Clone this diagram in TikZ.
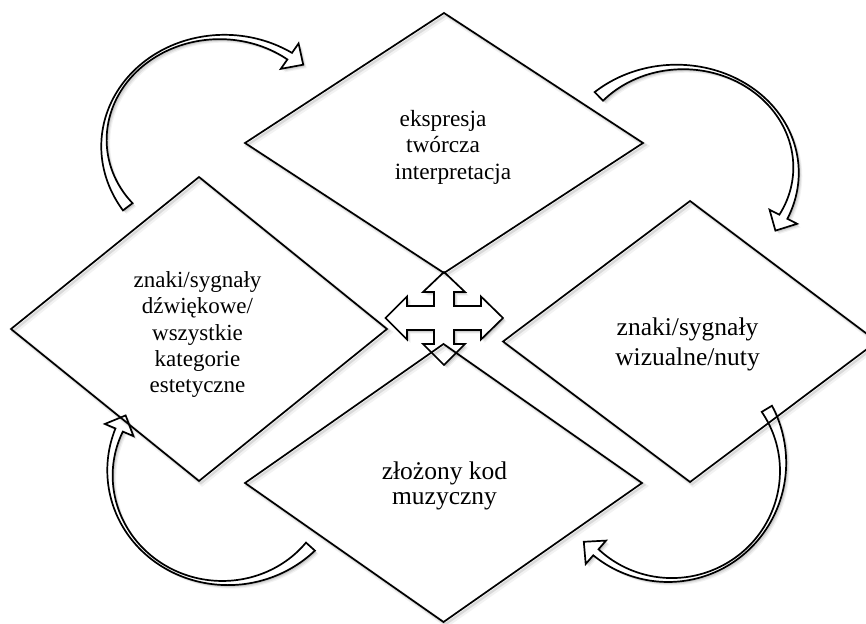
\documentclass[tikz,border=0pt]{standalone}
\usepackage{fontspec}
\setmainfont{Liberation Serif}
\usetikzlibrary{shapes.geometric}
\tikzset{
  shadowfill/.style={
    preaction={fill=black,fill opacity=0.05,transform canvas={xshift=3.5pt,yshift=-3.5pt}},
    preaction={fill=black,fill opacity=0.08,transform canvas={xshift=2.5pt,yshift=-2.5pt}},
    preaction={fill=black,fill opacity=0.10,transform canvas={xshift=1.5pt,yshift=-1.5pt}}},
  shadowline/.style={
    preaction={draw=black,draw opacity=0.05,line width=4.5pt,transform canvas={xshift=3pt,yshift=-3pt}},
    preaction={draw=black,draw opacity=0.10,line width=2.5pt,transform canvas={xshift=2pt,yshift=-2pt}}},
  blockarrow/.style={draw=black, line width=1.7pt, fill=white, line join=miter, shadowfill},
  dia/.style={diamond, draw=black, line width=1.7pt, inner sep=0pt, outer sep=0pt, shadowline},
  txt/.style={align=center, inner sep=0pt, anchor=north, text=black},
}
% #1 cx, #2 cy, #3 rx, #4 ry, #5 start angle, #6 end angle, #7 tail width, #8 head-end width, #9 head half width
\newcommand{\myCurvedArrow}[9]{%
  \pgfmathsetmacro\tgx{-(#3)*sin(#6)}%
  \pgfmathsetmacro\tgy{(#4)*cos(#6)}%
  \pgfmathsetmacro\tgn{sqrt(\tgx*\tgx+\tgy*\tgy)}%
  \pgfmathsetmacro\tipx{#1+(#3)*cos(#6)+16*\tgx/\tgn}%
  \pgfmathsetmacro\tipy{#2+(#4)*sin(#6)+16*\tgy/\tgn}%
  \draw[blockarrow, declare function={
      sf(\a)=(\a-(#5))/(#6-(#5));
      bw(\a)=2.6+((sf(\a)<0.5)*(#7-2.6)+(sf(\a)>=0.5)*(#8-2.6))*(1-2*sf(\a))^2;}]
    plot[domain=#5:#6, samples=90, variable=\q]
      ({#1+(#3+bw(\q)/2)*cos(\q)}, {#2+(#4+bw(\q)/2)*sin(\q)})
    -- ({#1+(#3+#9)*cos(#6)}, {#2+(#4+#9)*sin(#6)})
    -- (\tipx,\tipy)
    -- ({#1+(#3-#9)*cos(#6)}, {#2+(#4-#9)*sin(#6)})
    -- plot[domain=#6:#5, samples=90, variable=\q]
      ({#1+(#3-bw(\q)/2)*cos(\q)}, {#2+(#4-bw(\q)/2)*sin(\q)})
    -- cycle;
}
\begin{document}
\begin{tikzpicture}[x=1pt,y=-1pt]
  \useasboundingbox (0,0) rectangle (866,623);
  \fill[white] (0,0) rectangle (866,623);
  \clip (0,0) rectangle (866,623);

  % curved arrows (clockwise cycle)
  \myCurvedArrow{222}{143}{118}{106}{143}{305}{12}{8}{15.5}
  \myCurvedArrow{680}{170}{116}{103}{225.6}{387}{12}{9}{15.5}
  \myCurvedArrow{670}{467}{113}{113}{-31}{131}{12}{8}{15.5}
  \myCurvedArrow{225}{473}{115}{110}{42}{203}{12}{8}{15.5}

  % central four-way arrow
  \draw[blockarrow] (444,272) -- (465,292) -- (454,292) -- (454,306) -- (481,306)
    -- (481,296.5) -- (503,318) -- (481,339.5) -- (481,330) -- (454,330)
    -- (454,344) -- (465,344) -- (444,365) -- (423,344) -- (434,344)
    -- (434,330) -- (407,330) -- (407,339.5) -- (385.5,318) -- (407,296.5)
    -- (407,306) -- (434,306) -- (434,292) -- (423,292) -- cycle;

  % diamonds
  \node[dia, minimum width=398pt, minimum height=260pt] (dtop) at (444,143) {};
  \node[dia, minimum width=376pt, minimum height=304pt] (dleft) at (199,329) {};
  \node[dia, minimum width=374pt, minimum height=281pt] (dright) at (690,341.5) {};
  \node[dia, minimum width=397pt, minimum height=278pt] (dbottom) at (443.5,483) {};

  % texts
  \node[txt, font=\fontsize{23.3}{26.5}\selectfont] (ttop) at (443,110)
    {ekspresja\\twórcza\\\hspace*{20pt}interpretacja};
  \node[txt, font=\fontsize{23}{26.3}\selectfont] (tleft) at (197.5,271.3)
    {znaki/sygnały\\dźwiękowe/\\wszystkie\\kategorie\\estetyczne};
  \node[txt, font=\fontsize{25.5}{30}\selectfont] (tright) at (687.5,317.6)
    {znaki/sygnały\\wizualne/nuty};
  \node[txt, font=\fontsize{25.5}{25.5}\selectfont] (tbottom) at (444.5,461.5)
    {złożony kod\\muzyczny};
\end{tikzpicture}
\end{document}
